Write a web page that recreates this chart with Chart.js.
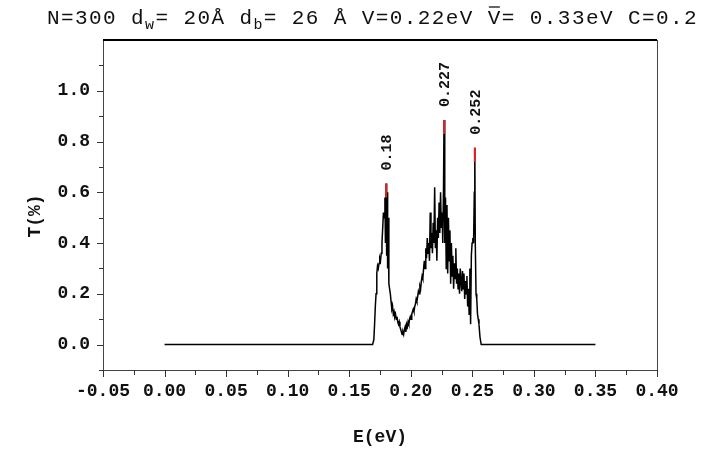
<!DOCTYPE html>
<html>
<head>
<meta charset="utf-8">
<script src="https://cdn.jsdelivr.net/npm/chart.js@4/dist/chart.umd.min.js"></script>
<style>
  html, body { margin: 0; padding: 0; background: #ffffff; }
  #wrap { width: 701px; height: 450px; position: relative; }
</style>
</head>
<body>
<div id="wrap"><canvas id="c" width="701" height="450"></canvas></div>
<script>
// ---- data ----
const energy = [
  0.000, 0.169, 0.1700, 0.1706, 0.1712, 0.1718, 0.1724, 0.1730, 0.1736, 0.1742,
  0.1748, 0.1754, 0.1760, 0.1766, 0.1772, 0.1778, 0.1784, 0.1790, 0.1794, 0.1800,
  0.1804, 0.1808, 0.1812, 0.1816, 0.1822, 0.1828, 0.1834, 0.1840, 0.1846, 0.1852,
  0.1858, 0.1864, 0.1870, 0.1876, 0.1882, 0.1888, 0.1894, 0.1900, 0.1906, 0.1912,
  0.1918, 0.1924, 0.1930, 0.1936, 0.1942, 0.1948, 0.1954, 0.1960, 0.1966, 0.1972,
  0.1978, 0.1984, 0.1990, 0.1996, 0.2002, 0.2008, 0.2014, 0.2020, 0.2026, 0.2032,
  0.2038, 0.2044, 0.2050, 0.2056, 0.2062, 0.2068, 0.2074, 0.2080, 0.2086, 0.2092,
  0.2098, 0.2104, 0.2110, 0.2116, 0.2122, 0.2128, 0.2134, 0.2140, 0.2146, 0.2152,
  0.2158, 0.2164, 0.2170, 0.2176, 0.2182, 0.2188, 0.2194, 0.2200, 0.2206, 0.2212,
  0.2218, 0.2224, 0.2230, 0.2236, 0.2242, 0.2248, 0.2254, 0.2260, 0.2266, 0.2270,
  0.2276, 0.2282, 0.2288, 0.2294, 0.2300, 0.2306, 0.2312, 0.2318, 0.2324, 0.2330,
  0.2336, 0.2342, 0.2348, 0.2354, 0.2360, 0.2366, 0.2372, 0.2378, 0.2384, 0.2390,
  0.2396, 0.2402, 0.2408, 0.2414, 0.2420, 0.2426, 0.2432, 0.2438, 0.2444, 0.2450,
  0.2456, 0.2462, 0.2468, 0.2474, 0.2480, 0.2486, 0.2492, 0.2498, 0.2504, 0.2510,
  0.2516, 0.2520, 0.2524, 0.2530, 0.2536, 0.2542, 0.2548, 0.2554, 0.2562, 0.2572,
  0.350
];
const transmission = [
  0.00, 0.00, 0.02, 0.08, 0.15, 0.20, 0.28, 0.31, 0.30, 0.32,
  0.34, 0.33, 0.36, 0.40, 0.46, 0.52, 0.50, 0.58, 0.40, 0.635,
  0.35, 0.60, 0.30, 0.50, 0.24, 0.22, 0.20, 0.17, 0.14, 0.15,
  0.12, 0.13, 0.11, 0.12, 0.10, 0.11, 0.09, 0.08, 0.09, 0.07,
  0.06, 0.05, 0.04, 0.05, 0.04, 0.06, 0.07, 0.05, 0.08, 0.07,
  0.09, 0.08, 0.10, 0.11, 0.10, 0.12, 0.13, 0.14, 0.13, 0.15,
  0.16, 0.18, 0.17, 0.19, 0.21, 0.20, 0.23, 0.22, 0.25, 0.27,
  0.26, 0.30, 0.33, 0.30, 0.38, 0.34, 0.42, 0.36, 0.40, 0.33,
  0.52, 0.38, 0.44, 0.36, 0.48, 0.40, 0.62, 0.38, 0.45, 0.33,
  0.50, 0.42, 0.56, 0.44, 0.60, 0.46, 0.52, 0.40, 0.62, 0.885,
  0.40, 0.58, 0.30, 0.55, 0.28, 0.50, 0.33, 0.45, 0.24, 0.40,
  0.27, 0.35, 0.22, 0.32, 0.26, 0.38, 0.24, 0.30, 0.22, 0.28,
  0.20, 0.30, 0.25, 0.21, 0.29, 0.22, 0.28, 0.18, 0.25, 0.20,
  0.27, 0.15, 0.22, 0.12, 0.30, 0.08, 0.35, 0.40, 0.42, 0.40,
  0.60, 0.776, 0.40, 0.20, 0.18, 0.12, 0.10, 0.08, 0.03, 0.00,
  0.00
];
// labelled resonance peaks (red tips)
const peakEnergy = [0.18, 0.227, 0.252];
const peakTop    = [0.635, 0.885, 0.776];
const peakTipLow = [0.58, 0.83, 0.72];
const peakLabels = ['0.18', '0.227', '0.252'];

// axis tick values (labels shown only on majors)
const xMin = -0.05, xMax = 0.40, xStep = 0.025;
const yMin = -0.1,  yMax = 1.2,  yStep = 0.1;
const xTitle = 'E(eV)';
const yTitle = 'T(%)';

// ---- build datasets ----
const curve = energy.map((e, i) => ({ x: e, y: transmission[i] }));
const tipSets = peakEnergy.map((e, i) => ({
  data: [{ x: e, y: peakTipLow[i] }, { x: e, y: peakTop[i] }],
  showLine: true, borderColor: '#e02020', borderWidth: 2,
  pointRadius: 0, order: 0
}));

const MONO = '"Liberation Mono", "DejaVu Sans Mono", monospace';

// custom drawing: frame, tick marks, titles, peak labels
const decor = {
  id: 'decor',
  afterDraw(chart) {
    const { ctx, chartArea: a, scales: { x, y } } = chart;
    ctx.save();
    // frame
    ctx.strokeStyle = '#000';
    ctx.lineWidth = 2;
    ctx.beginPath(); ctx.moveTo(a.left, a.top); ctx.lineTo(a.right, a.top); ctx.stroke();
    ctx.lineWidth = 1;
    ctx.strokeStyle = '#444';
    ctx.beginPath(); ctx.moveTo(a.right + 0.5, a.top); ctx.lineTo(a.right + 0.5, a.bottom); ctx.stroke();
    // tick marks
    ctx.strokeStyle = '#333';
    x.ticks.forEach(t => {
      const px = Math.round(x.getPixelForValue(t.value)) + 0.5;
      const major = t.label !== '';
      ctx.beginPath(); ctx.moveTo(px, a.bottom); ctx.lineTo(px, a.bottom + (major ? 7 : 5)); ctx.stroke();
    });
    y.ticks.forEach(t => {
      const py = Math.round(y.getPixelForValue(t.value)) + 0.5;
      const major = t.label !== '';
      if (t.value > yMax - 1e-9) return;
      ctx.beginPath(); ctx.moveTo(a.left, py); ctx.lineTo(a.left - (major ? 6 : 4), py); ctx.stroke();
    });
    // axis titles
    ctx.fillStyle = '#111';
    ctx.font = 'bold 18px ' + MONO;
    ctx.textAlign = 'center'; ctx.textBaseline = 'middle';
    ctx.fillText(xTitle, (a.left + a.right) / 2, 437);
    ctx.save();
    ctx.translate(35, 216); ctx.rotate(-Math.PI / 2);
    ctx.fillText(yTitle, 0, 0);
    ctx.restore();
    // peak labels
    ctx.font = 'bold 15px ' + MONO;
    ctx.textAlign = 'left'; ctx.textBaseline = 'middle';
    peakEnergy.forEach((e, i) => {
      const px = x.getPixelForValue(e) + 1;
      const py = y.getPixelForValue(peakTop[i]) - 13;
      ctx.save(); ctx.translate(px, py); ctx.rotate(-Math.PI / 2);
      ctx.fillText(peakLabels[i], 0, 0);
      ctx.restore();
    });
    // main title with subscripts and overbar
    const big = '21px ' + MONO, small = '15px ' + MONO;
    const parts = [
      ['N=300 d', 0], ['w', 1], ['= 20Å d', 0], ['b', 1], ['= 26 Å V=0.22eV ', 0],
      ['V', 2], ['= 0.33eV C=0.2', 0]
    ];
    let cx = 47; const base = 24;
    ctx.textAlign = 'left'; ctx.textBaseline = 'alphabetic';
    if ('letterSpacing' in ctx) ctx.letterSpacing = '1.4px';
    parts.forEach(([s, kind]) => {
      ctx.font = kind === 1 ? small : big;
      const yy = kind === 1 ? base + 5 : base;
      ctx.fillText(s, cx, yy);
      const w = ctx.measureText(s).width;
      if (kind === 2) {
        ctx.lineWidth = 1.3; ctx.strokeStyle = '#111';
        ctx.beginPath(); ctx.moveTo(cx + 1, base - 17); ctx.lineTo(cx + w - 2, base - 17); ctx.stroke();
      }
      cx += w;
    });
    ctx.restore();
  }
};

new Chart(document.getElementById('c'), {
  type: 'scatter',
  data: {
    datasets: [
      { data: curve, showLine: true, borderColor: '#000', borderWidth: 1.5,
        pointRadius: 0, order: 1 },
      ...tipSets
    ]
  },
  options: {
    responsive: false,
    animation: false,
    events: [],
    layout: { padding: { top: 40, right: 44, left: 0, bottom: 0 } },
    plugins: { legend: { display: false }, tooltip: { enabled: false }, title: { display: false } },
    elements: { line: { tension: 0 } },
    scales: {
      x: {
        type: 'linear', min: xMin, max: xMax,
        afterFit: s => { s.height = 80; },
        afterBuildTicks: s => {
          const t = [];
          for (let v = xMin; v <= xMax + 1e-9; v += xStep) t.push({ value: Math.round(v * 1000) / 1000 });
          s.ticks = t;
        },
        grid: { display: true, drawOnChartArea: false, tickLength: 7, tickColor: 'rgba(0,0,0,0)' },
        border: { display: true, color: '#444', width: 1 },
        ticks: {
          autoSkip: false, maxRotation: 0, padding: 4, color: '#111',
          font: { family: MONO, size: 18, weight: 'bold' },
          callback: v => (Math.round(v * 1000) % 50 === 0) ? Number(v).toFixed(2) : ''
        }
      },
      y: {
        type: 'linear', min: yMin, max: yMax,
        afterFit: s => { s.width = 103; },
        afterBuildTicks: s => {
          const t = [];
          for (let v = yMin; v <= yMax + 1e-9; v += yStep) t.push({ value: Math.round(v * 10) / 10 });
          s.ticks = t;
        },
        grid: { display: true, drawOnChartArea: false, tickLength: 6, tickColor: 'rgba(0,0,0,0)' },
        border: { display: true, color: '#444', width: 1 },
        ticks: {
          autoSkip: false, padding: 7, color: '#111',
          font: { family: MONO, size: 18, weight: 'bold' },
          callback: v => {
            const k = Math.round(v * 10);
            return (k >= 0 && k <= 10 && k % 2 === 0) ? Number(v).toFixed(1) : '';
          }
        }
      }
    }
  },
  plugins: [decor]
});
</script>
</body>
</html>
